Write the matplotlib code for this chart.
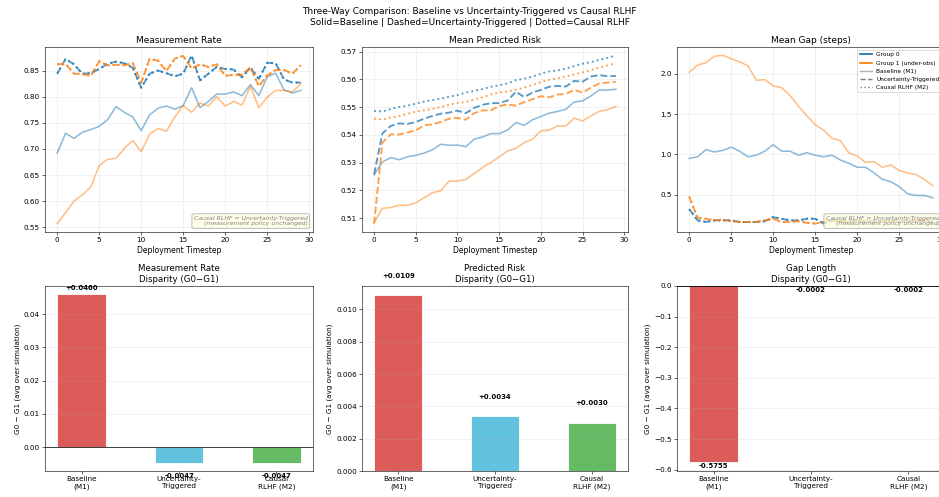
import numpy as np
import matplotlib
matplotlib.use("Agg")
import matplotlib.pyplot as plt
from matplotlib.lines import Line2D

# ---------------- data ----------------
timesteps = list(range(30))

rate_base_g0 = [0.692, 0.730, 0.720, 0.732, 0.737, 0.743, 0.756, 0.781, 0.770, 0.761,
                0.735, 0.765, 0.778, 0.782, 0.776, 0.783, 0.817, 0.779, 0.791, 0.805,
                0.805, 0.809, 0.802, 0.823, 0.802, 0.838, 0.845, 0.813, 0.807, 0.812]
rate_base_g1 = [0.557, 0.578, 0.600, 0.612, 0.627, 0.668, 0.680, 0.682, 0.701, 0.716,
                0.695, 0.728, 0.739, 0.734, 0.761, 0.783, 0.770, 0.788, 0.782, 0.800,
                0.782, 0.791, 0.784, 0.820, 0.779, 0.799, 0.812, 0.812, 0.809, 0.825]
rate_ut_g0 = [0.844, 0.872, 0.862, 0.844, 0.845, 0.853, 0.863, 0.867, 0.864, 0.855,
              0.817, 0.844, 0.850, 0.845, 0.839, 0.844, 0.879, 0.831, 0.844, 0.857,
              0.853, 0.852, 0.837, 0.856, 0.834, 0.865, 0.864, 0.833, 0.827, 0.827]
rate_ut_g1 = [0.862, 0.863, 0.844, 0.843, 0.840, 0.868, 0.860, 0.861, 0.860, 0.864,
              0.827, 0.872, 0.869, 0.849, 0.873, 0.878, 0.854, 0.862, 0.857, 0.862,
              0.840, 0.842, 0.842, 0.856, 0.820, 0.841, 0.851, 0.851, 0.844, 0.860]
rate_causal_g0 = list(rate_ut_g0)
rate_causal_g1 = list(rate_ut_g1)

risk_base_g0 = [0.5256, 0.5302, 0.5318, 0.5310, 0.5321, 0.5326, 0.5334, 0.5346, 0.5366, 0.5362,
                0.5363, 0.5357, 0.5384, 0.5392, 0.5404, 0.5404, 0.5417, 0.5444, 0.5434, 0.5454,
                0.5466, 0.5478, 0.5484, 0.5492, 0.5518, 0.5522, 0.5540, 0.5561, 0.5561, 0.5564]
risk_base_g1 = [0.5083, 0.5135, 0.5138, 0.5146, 0.5146, 0.5155, 0.5173, 0.5191, 0.5199, 0.5233,
                0.5233, 0.5239, 0.5260, 0.5282, 0.5300, 0.5320, 0.5342, 0.5351, 0.5372, 0.5384,
                0.5414, 0.5417, 0.5432, 0.5432, 0.5460, 0.5450, 0.5468, 0.5484, 0.5491, 0.5502]
risk_ut_g0 = [0.5258, 0.5405, 0.5432, 0.5441, 0.5439, 0.5446, 0.5458, 0.5468, 0.5476, 0.5480,
              0.5487, 0.5478, 0.5497, 0.5508, 0.5514, 0.5514, 0.5523, 0.5555, 0.5536, 0.5552,
              0.5562, 0.5573, 0.5576, 0.5574, 0.5594, 0.5591, 0.5610, 0.5615, 0.5611, 0.5612]
risk_ut_g1 = [0.5080, 0.5372, 0.5402, 0.5401, 0.5408, 0.5416, 0.5434, 0.5438, 0.5446, 0.5458,
              0.5461, 0.5454, 0.5478, 0.5488, 0.5488, 0.5504, 0.5509, 0.5505, 0.5518, 0.5528,
              0.5539, 0.5535, 0.5545, 0.5547, 0.5562, 0.5552, 0.5570, 0.5585, 0.5588, 0.5591]
risk_causal_g0 = [0.5486, 0.5484, 0.5493, 0.5500, 0.5505, 0.5512, 0.5520, 0.5525, 0.5530, 0.5537,
                  0.5543, 0.5552, 0.5558, 0.5565, 0.5573, 0.5578, 0.5585, 0.5597, 0.5602, 0.5610,
                  0.5620, 0.5628, 0.5632, 0.5638, 0.5648, 0.5656, 0.5662, 0.5670, 0.5677, 0.5686]
risk_causal_g1 = [0.5458, 0.5455, 0.5462, 0.5468, 0.5475, 0.5484, 0.5488, 0.5493, 0.5500, 0.5508,
                  0.5515, 0.5518, 0.5527, 0.5535, 0.5545, 0.5553, 0.5556, 0.5562, 0.5570, 0.5580,
                  0.5590, 0.5598, 0.5603, 0.5610, 0.5617, 0.5625, 0.5633, 0.5642, 0.5650, 0.5658]

gap_base_g0 = [0.95, 0.97, 1.06, 1.03, 1.05, 1.09, 1.04, 0.97, 0.99, 1.04,
               1.12, 1.04, 1.04, 0.99, 1.02, 0.99, 0.97, 0.99, 0.93, 0.89,
               0.84, 0.84, 0.77, 0.69, 0.66, 0.60, 0.51, 0.49, 0.49, 0.46]
gap_base_g1 = [2.02, 2.11, 2.14, 2.22, 2.23, 2.19, 2.15, 2.10, 1.92, 1.93,
               1.85, 1.83, 1.73, 1.60, 1.48, 1.37, 1.30, 1.20, 1.17, 1.02,
               0.98, 0.90, 0.91, 0.84, 0.87, 0.80, 0.77, 0.75, 0.69, 0.61]
gap_ut_g0 = [0.32, 0.18, 0.16, 0.18, 0.18, 0.18, 0.16, 0.16, 0.16, 0.17,
             0.22, 0.20, 0.18, 0.18, 0.20, 0.20, 0.14, 0.18, 0.17, 0.18,
             0.17, 0.16, 0.18, 0.17, 0.18, 0.16, 0.17, 0.18, 0.17, 0.16]
gap_ut_g1 = [0.475, 0.21, 0.20, 0.18, 0.19, 0.17, 0.16, 0.16, 0.16, 0.18,
             0.20, 0.16, 0.16, 0.17, 0.15, 0.14, 0.16, 0.18, 0.17, 0.16,
             0.17, 0.18, 0.16, 0.17, 0.17, 0.18, 0.16, 0.17, 0.18, 0.17]
gap_causal_g0 = list(gap_ut_g0)
gap_causal_g1 = list(gap_ut_g1)

methods = ["Baseline\n(M1)", "Uncertainty-\nTriggered", "Causal\nRLHF (M2)"]
disp_rate = [0.0460, -0.0047, -0.0047]
disp_risk = [0.0109, 0.0034, 0.0030]
disp_gap = [-0.5755, -0.0002, -0.0002]

# ---------------- style ----------------
DPI = 52
fig = plt.figure(figsize=(939 / DPI, 497 / DPI), dpi=DPI)
W, H = 939.0, 497.0

C0 = "#1f77b4"
C1 = "#ff7f0e"
bar_colors = ["#d9534f", "#5bc0de", "#5cb85c"]

def ax_px(left, top, right, bottom):
    return fig.add_axes([left / W, 1 - bottom / H, (right - left) / W, (bottom - top) / H])

top_axes = [ax_px(45, 47, 313, 232), ax_px(362, 47, 628, 232), ax_px(677, 47, 945, 232)]
bot_axes = [ax_px(45, 286, 313, 471), ax_px(362, 286, 628, 471), ax_px(677, 286, 945, 471)]

line_sets = [
    ("Measurement Rate", (rate_base_g0, rate_base_g1), (rate_ut_g0, rate_ut_g1), (rate_causal_g0, rate_causal_g1)),
    ("Mean Predicted Risk", (risk_base_g0, risk_base_g1), (risk_ut_g0, risk_ut_g1), (risk_causal_g0, risk_causal_g1)),
    ("Mean Gap (steps)", (gap_base_g0, gap_base_g1), (gap_ut_g0, gap_ut_g1), (gap_causal_g0, gap_causal_g1)),
]

for i, (ax, (title, base, ut, causal)) in enumerate(zip(top_axes, line_sets)):
    for g, col in enumerate([C0, C1]):
        ax.plot(timesteps, base[g], color=col, lw=2.2, ls="-", alpha=0.5)
        ax.plot(timesteps, ut[g], color=col, lw=2.6, ls="--", alpha=0.75)
        ax.plot(timesteps, causal[g], color=col, lw=2.6, ls=":", alpha=0.75)
    ax.set_title(title, fontsize=12.5)
    ax.set_xlabel("Deployment Timestep", fontsize=10.5)
    ax.tick_params(labelsize=10)
    ax.grid(True, alpha=0.3)
    ax.set_xticks([0, 5, 10, 15, 20, 25, 30])
    if i in (0, 2):
        ax.text(0.98, 0.03, "Causal RLHF = Uncertainty-Triggered\n(measurement policy unchanged)",
                transform=ax.transAxes, ha="right", va="bottom", fontsize=8.5,
                style="italic", color="gray", multialignment="right",
                bbox=dict(boxstyle="round,pad=0.3", facecolor="lightyellow", edgecolor="gray", alpha=0.7))

handles = [
    Line2D([], [], color=C0, lw=2.5, label="Group 0"),
    Line2D([], [], color=C1, lw=2.5, label="Group 1 (under-obs)"),
    Line2D([], [], color="gray", lw=2, ls="-", alpha=0.6, label="Baseline (M1)"),
    Line2D([], [], color="gray", lw=2, ls="--", label="Uncertainty-Triggered"),
    Line2D([], [], color="gray", lw=2, ls=":", label="Causal RLHF (M2)"),
]
top_axes[2].legend(handles=handles, loc="upper right", fontsize=8.2, framealpha=0.9)

bar_sets = [
    ("Measurement Rate\nDisparity (G0\u2212G1)", disp_rate),
    ("Predicted Risk\nDisparity (G0\u2212G1)", disp_risk),
    ("Gap Length\nDisparity (G0\u2212G1)", disp_gap),
]
xpos = np.arange(len(methods))
for ax, (title, vals) in zip(bot_axes, bar_sets):
    ax.bar(xpos, vals, width=0.5, color=bar_colors, alpha=0.95, edgecolor="white", linewidth=1.2)
    ax.axhline(0, color="black", lw=1)
    for x, v in zip(xpos, vals):
        if v >= 0:
            ax.text(x, v + 0.001, f"{v:+.4f}", ha="center", va="bottom", fontsize=9.5, fontweight="bold")
        else:
            ax.text(x, v - 0.003, f"{v:+.4f}", ha="center", va="top", fontsize=9.5, fontweight="bold")
    ax.set_xticks(xpos)
    ax.set_xticklabels(methods, fontsize=10)
    ax.tick_params(labelsize=10)
    ax.set_title(title, fontsize=12)
    ax.set_ylabel("G0 \u2212 G1 (avg over simulation)", fontsize=10)
    ax.grid(True, axis="y", alpha=0.3)

fig.suptitle("Three-Way Comparison: Baseline vs Uncertainty-Triggered vs Causal RLHF\n"
             "Solid=Baseline | Dashed=Uncertainty-Triggered | Dotted=Causal RLHF",
             fontsize=12.5, y=0.985)

fig.savefig("out.png", dpi=DPI)
